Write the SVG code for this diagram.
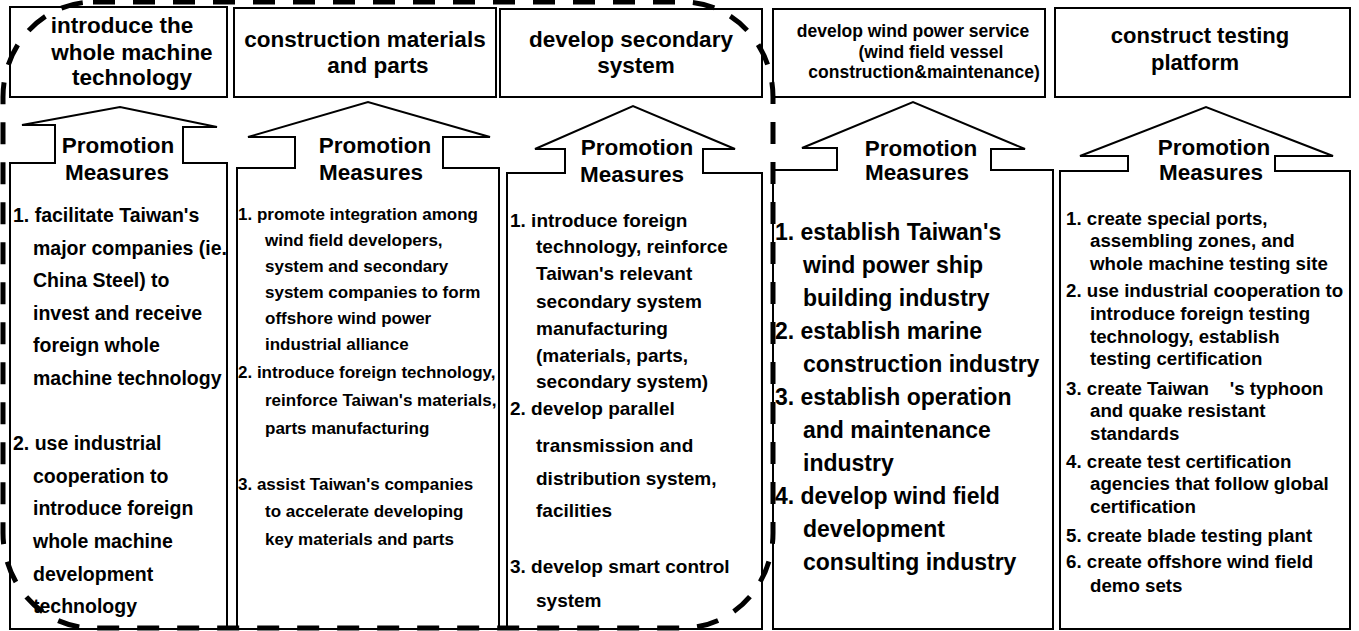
<svg xmlns="http://www.w3.org/2000/svg" width="1359" height="631" viewBox="0 0 1359 631">
<style>
.box{fill:#fff;stroke:#000;stroke-width:2}
.arrow{fill:#fff;stroke:#000;stroke-width:2;stroke-linejoin:miter}
text{font-family:"Liberation Sans",Arial,sans-serif;font-weight:bold;fill:#000}
.hd{font-size:22.5px;text-anchor:middle}
.hd4{font-size:17.5px;text-anchor:middle}
.pm{font-size:22.5px;text-anchor:middle}
.c1{font-size:19.5px}
.c2{font-size:17px}
.c3{font-size:19px}
.c4{font-size:23px}
.c5{font-size:18.7px}
.bound{fill:none;stroke:#000;stroke-width:5;stroke-dasharray:22 18}
</style>
<rect width="1359" height="631" fill="#fff"/>

<g id="col1">
<rect class="box" x="10" y="7" width="217" height="90"/>
<text class="hd"><tspan x="122" y="33">introduce the</tspan><tspan x="132" y="60">whole machine</tspan><tspan x="132" y="85">technology</tspan></text>
<path class="arrow" d="M10,629 V163 H55 V125 H22 L120,107 L217,127 H183 V163 H227 V629 Z"/>
<text class="pm"><tspan x="118" y="153">Promotion</tspan><tspan x="117" y="180">Measures</tspan></text>
<text class="c1">
<tspan x="13" y="222">1. facilitate Taiwan's</tspan>
<tspan x="33" y="254.6">major companies (ie.</tspan>
<tspan x="33" y="287.2">China Steel) to</tspan>
<tspan x="33" y="319.8">invest and receive</tspan>
<tspan x="33" y="352.4">foreign whole</tspan>
<tspan x="33" y="385">machine technology</tspan>
<tspan x="13" y="450.2">2. use industrial</tspan>
<tspan x="33" y="482.8">cooperation to</tspan>
<tspan x="33" y="515.4">introduce foreign</tspan>
<tspan x="33" y="548">whole machine</tspan>
<tspan x="33" y="580.6">development</tspan>
<tspan x="33" y="613.2">technology</tspan>
</text>
</g>

<g id="col2">
<rect class="box" x="234" y="8" width="262" height="89"/>
<text class="hd"><tspan x="365" y="47">construction materials</tspan><tspan x="378" y="73">and parts</tspan></text>
<path class="arrow" d="M237,629 V168 H295 V137 H248 L368,102 L490,137 H443 V168 H499 V629 Z"/>
<text class="pm"><tspan x="375" y="153">Promotion</tspan><tspan x="371" y="180">Measures</tspan></text>
<text class="c2">
<tspan x="238" y="220">1. promote integration among</tspan>
<tspan x="265" y="246">wind field developers,</tspan>
<tspan x="265" y="272">system and secondary</tspan>
<tspan x="265" y="298">system companies to form</tspan>
<tspan x="265" y="324">offshore wind power</tspan>
<tspan x="265" y="350">industrial alliance</tspan>
<tspan x="238" y="378">2. introduce foreign technology,</tspan>
<tspan x="265" y="406">reinforce Taiwan's materials,</tspan>
<tspan x="265" y="434">parts manufacturing</tspan>
<tspan x="238" y="490">3. assist Taiwan's companies</tspan>
<tspan x="265" y="517">to accelerate developing</tspan>
<tspan x="265" y="545">key materials and parts</tspan>
</text>
</g>

<g id="col3">
<rect class="box" x="500" y="9" width="262" height="88"/>
<text class="hd"><tspan x="631" y="47">develop secondary</tspan><tspan x="636" y="73">system</tspan></text>
<path class="arrow" d="M507,629 V173 H565 V149 H535 L633,106 L735,149 H703 V173 H762 V629 Z"/>
<text class="pm"><tspan x="637" y="155">Promotion</tspan><tspan x="632" y="182">Measures</tspan></text>
<text class="c3">
<tspan x="510" y="227">1. introduce foreign</tspan>
<tspan x="536" y="253">technology, reinforce</tspan>
<tspan x="536" y="280">Taiwan's relevant</tspan>
<tspan x="536" y="308">secondary system</tspan>
<tspan x="536" y="335">manufacturing</tspan>
<tspan x="536" y="362">(materials, parts,</tspan>
<tspan x="536" y="388">secondary system)</tspan>
<tspan x="510" y="415">2. develop parallel</tspan>
<tspan x="536" y="452">transmission and</tspan>
<tspan x="536" y="485">distribution system,</tspan>
<tspan x="536" y="517">facilities</tspan>
<tspan x="510" y="573">3. develop smart control</tspan>
<tspan x="536" y="607">system</tspan>
</text>
</g>

<g id="col4">
<rect class="box" x="773" y="9" width="272" height="88"/>
<text class="hd4"><tspan x="913" y="37">develop wind power service</tspan><tspan x="931" y="58">(wind field vessel</tspan><tspan x="924" y="78">construction&amp;maintenance)</tspan></text>
<path class="arrow" d="M773,629 V170 H837 V148 H802 L913,102 L1025,149 H991 V170 H1053 V629 Z"/>
<text class="pm"><tspan x="921" y="156">Promotion</tspan><tspan x="917" y="180">Measures</tspan></text>
<text class="c4">
<tspan x="775" y="240">1. establish Taiwan's</tspan>
<tspan x="803" y="273">wind power ship</tspan>
<tspan x="803" y="306">building industry</tspan>
<tspan x="775" y="339">2. establish marine</tspan>
<tspan x="803" y="372">construction industry</tspan>
<tspan x="775" y="405">3. establish operation</tspan>
<tspan x="803" y="438">and maintenance</tspan>
<tspan x="803" y="471">industry</tspan>
<tspan x="775" y="504">4. develop wind field</tspan>
<tspan x="803" y="537">development</tspan>
<tspan x="803" y="570">consulting industry</tspan>
</text>
</g>

<g id="col5">
<rect class="box" x="1055" y="8" width="295" height="89"/>
<text class="hd" style="font-size:22px"><tspan x="1200" y="43">construct testing</tspan><tspan x="1195" y="70">platform</tspan></text>
<path class="arrow" d="M1060,629 V171 H1128 V156 H1080 L1206,107 L1333,156 H1275 V171 H1350 V629 Z"/>
<text class="pm"><tspan x="1214" y="155">Promotion</tspan><tspan x="1211" y="180">Measures</tspan></text>
<text class="c5">
<tspan x="1066" y="225">1. create special ports,</tspan>
<tspan x="1090" y="247">assembling zones, and</tspan>
<tspan x="1090" y="270">whole machine testing site</tspan>
<tspan x="1066" y="297">2. use industrial cooperation to</tspan>
<tspan x="1090" y="320">introduce foreign testing</tspan>
<tspan x="1090" y="343">technology, establish</tspan>
<tspan x="1090" y="365">testing certification</tspan>
<tspan x="1066" y="395">3. create Taiwan&#160;&#160;&#160;&#160;'s typhoon</tspan>
<tspan x="1090" y="417">and quake resistant</tspan>
<tspan x="1090" y="440">standards</tspan>
<tspan x="1066" y="468">4. create test certification</tspan>
<tspan x="1090" y="490">agencies that follow global</tspan>
<tspan x="1090" y="513">certification</tspan>
<tspan x="1066" y="542">5. create blade testing plant</tspan>
<tspan x="1066" y="568">6. create offshore wind field</tspan>
<tspan x="1090" y="592">demo sets</tspan>
</text>
</g>

<g id="connectors">
<rect class="bound" x="3" y="2" width="770" height="626" rx="90" ry="95"/>
</g>
</svg>
